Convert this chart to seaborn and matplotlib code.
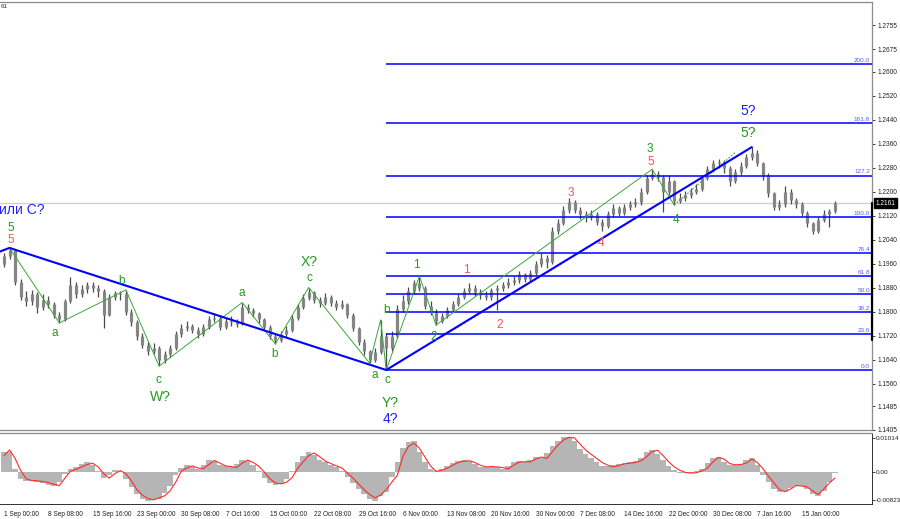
import matplotlib
matplotlib.use("Agg")
import matplotlib.pyplot as plt
import matplotlib.transforms as mtransforms
import numpy as np
import pandas as pd
import seaborn as sns

# ---- price bars (one bar here stands for a few H4 bars of the original) ----
first_open = 1.1960
closes = [
    1.1985, 1.2005, 1.1900, 1.1850, 1.1835, 1.1860, 1.1815, 1.1840, 1.1825, 1.1790,
    1.1775, 1.1835, 1.1890, 1.1860, 1.1875, 1.1890, 1.1880, 1.1870, 1.1790, 1.1850,
    1.1862, 1.1858, 1.1800, 1.1765, 1.1720, 1.1690, 1.1670, 1.1680, 1.1640, 1.1660,
    1.1680, 1.1725, 1.1745, 1.1752, 1.1740, 1.1725, 1.1750, 1.1775, 1.1780, 1.1750,
    1.1770, 1.1765, 1.1760, 1.1815, 1.1805, 1.1795, 1.1775, 1.1750, 1.1720, 1.1705,
    1.1725, 1.1740, 1.1780, 1.1815, 1.1845, 1.1865, 1.1840, 1.1830, 1.1850, 1.1830,
    1.1815, 1.1825, 1.1790, 1.1745, 1.1700, 1.1668, 1.1640, 1.1665, 1.1720, 1.1680,
    1.1720, 1.1810, 1.1835, 1.1870, 1.1895, 1.1880, 1.1820, 1.1800, 1.1770, 1.1785,
    1.1805, 1.1825, 1.1850, 1.1870, 1.1880, 1.1865, 1.1855, 1.1850, 1.1872, 1.1880,
    1.1890, 1.1900, 1.1905, 1.1925, 1.1910, 1.1930, 1.1960, 1.1980, 1.1965, 1.2070,
    1.2095, 1.2140, 1.2165, 1.2140, 1.2125, 1.2115, 1.2125, 1.2100, 1.2085, 1.2125,
    1.2145, 1.2130, 1.2150, 1.2158, 1.2165, 1.2200, 1.2245, 1.2260, 1.2250, 1.2200,
    1.2235, 1.2170, 1.2180, 1.2190, 1.2200, 1.2210, 1.2245, 1.2275, 1.2295, 1.2300,
    1.2280, 1.2235, 1.2265, 1.2285, 1.2315, 1.2330, 1.2295, 1.2255, 1.2195, 1.2150,
    1.2160, 1.2200, 1.2172, 1.2158, 1.2130, 1.2095, 1.2070, 1.2105, 1.2125, 1.2135,
    1.2161,
]
highs = [
    1.1995, 1.2012, 1.2008, 1.1910, 1.1868, 1.1872, 1.1865, 1.1858, 1.1852, 1.1832,
    1.1800, 1.1842, 1.1915, 1.1898, 1.1890, 1.1900, 1.1898, 1.1888, 1.1875, 1.1858,
    1.1870, 1.1868, 1.1872, 1.1808, 1.1772, 1.1728, 1.1698, 1.1695, 1.1685, 1.1670,
    1.1690, 1.1735, 1.1758, 1.1768, 1.1760, 1.1748, 1.1758, 1.1785, 1.1795, 1.1788,
    1.1778, 1.1785, 1.1775, 1.1830, 1.1825, 1.1812, 1.1800, 1.1780, 1.1755, 1.1728,
    1.1735, 1.1752, 1.1788, 1.1825, 1.1858, 1.1880, 1.1870, 1.1848, 1.1862, 1.1855,
    1.1838, 1.1840, 1.1830, 1.1795, 1.1750, 1.1708, 1.1672, 1.1678, 1.1772, 1.1728,
    1.1735, 1.1822, 1.1855, 1.1882, 1.1905, 1.1918, 1.1885, 1.1835, 1.1808, 1.1795,
    1.1815, 1.1835, 1.1860, 1.1880, 1.1895, 1.1888, 1.1875, 1.1868, 1.1880, 1.1890,
    1.1900, 1.1912, 1.1918, 1.1935, 1.1930, 1.1940, 1.1970, 1.1995, 1.1990, 1.2082,
    1.2110, 1.2152, 1.2180, 1.2172, 1.2148, 1.2135, 1.2140, 1.2132, 1.2108, 1.2135,
    1.2158, 1.2152, 1.2160, 1.2168, 1.2178, 1.2212, 1.2255, 1.2275, 1.2268, 1.2255,
    1.2255, 1.2240, 1.2195, 1.2202, 1.2212, 1.2225, 1.2255, 1.2285, 1.2305, 1.2308,
    1.2305, 1.2285, 1.2275, 1.2298, 1.2325, 1.2348, 1.2340, 1.2300, 1.2262, 1.2200,
    1.2172, 1.2218, 1.2208, 1.2180, 1.2165, 1.2135, 1.2100, 1.2115, 1.2138, 1.2142,
    1.2168,
]
lows = [
    1.1950, 1.1975, 1.1890, 1.1838, 1.1818, 1.1822, 1.1795, 1.1805, 1.1812, 1.1780,
    1.1762, 1.1770, 1.1828, 1.1845, 1.1850, 1.1862, 1.1865, 1.1850, 1.1745, 1.1785,
    1.1838, 1.1840, 1.1790, 1.1752, 1.1705, 1.1680, 1.1655, 1.1660, 1.1618, 1.1628,
    1.1650, 1.1672, 1.1715, 1.1735, 1.1728, 1.1712, 1.1718, 1.1742, 1.1765, 1.1738,
    1.1742, 1.1752, 1.1748, 1.1755, 1.1795, 1.1782, 1.1762, 1.1738, 1.1710, 1.1692,
    1.1698, 1.1715, 1.1732, 1.1772, 1.1808, 1.1838, 1.1828, 1.1815, 1.1822, 1.1818,
    1.1805, 1.1808, 1.1780, 1.1735, 1.1690, 1.1655, 1.1628, 1.1632, 1.1660, 1.1605,
    1.1668, 1.1712, 1.1798, 1.1825, 1.1860, 1.1870, 1.1810, 1.1790, 1.1755, 1.1762,
    1.1778, 1.1798, 1.1818, 1.1842, 1.1862, 1.1852, 1.1842, 1.1838, 1.1840, 1.1805,
    1.1870, 1.1878, 1.1890, 1.1895, 1.1898, 1.1902, 1.1922, 1.1950, 1.1945, 1.1960,
    1.2058, 1.2088, 1.2130, 1.2128, 1.2108, 1.2100, 1.2105, 1.2088, 1.2068, 1.2078,
    1.2115, 1.2118, 1.2122, 1.2140, 1.2148, 1.2155, 1.2192, 1.2238, 1.2235, 1.2132,
    1.2190, 1.2155, 1.2162, 1.2170, 1.2178, 1.2192, 1.2202, 1.2238, 1.2265, 1.2280,
    1.2262, 1.2220, 1.2228, 1.2255, 1.2278, 1.2305, 1.2285, 1.2240, 1.2182, 1.2138,
    1.2140, 1.2150, 1.2160, 1.2145, 1.2118, 1.2082, 1.2060, 1.2062, 1.2098, 1.2082,
    1.2128,
]

# ---- MACD window ----
macd_hist = [
    0.0060, 0.0060, 0.0010, -0.0020, -0.0026, -0.0027, -0.0030, -0.0032, -0.0038, -0.0042,
    -0.0030, -0.0005, 0.0008, 0.0016, 0.0024, 0.0030, 0.0022, 0.0002, -0.0018, -0.0010,
    0.0006, 0.0002, -0.0020, -0.0045, -0.0066, -0.0080, -0.0086, -0.0082, -0.0078, -0.0062,
    -0.0040, -0.0008, 0.0012, 0.0020, 0.0015, 0.0010, 0.0020, 0.0034, 0.0032, 0.0022,
    0.0018, 0.0014, 0.0024, 0.0036, 0.0032, 0.0020, 0.0004, -0.0018, -0.0032, -0.0038,
    -0.0034, -0.0022, 0.0004, 0.0028, 0.0046, 0.0058, 0.0050, 0.0036, 0.0028, 0.0020,
    0.0014, 0.0002, -0.0015, -0.0032, -0.0050, -0.0065, -0.0078, -0.0085, -0.0072, -0.0060,
    -0.0015, 0.0030, 0.0070, 0.0088, 0.0090, 0.0060, 0.0030, 0.0008, 0.0004, 0.0010,
    0.0018, 0.0026, 0.0032, 0.0036, 0.0032, 0.0024, 0.0016, 0.0016, 0.0018, 0.0014,
    0.0010, 0.0018, 0.0030, 0.0032, 0.0030, 0.0036, 0.0044, 0.0042, 0.0055, 0.0075,
    0.0092, 0.0102, 0.0104, 0.0090, 0.0068, 0.0052, 0.0040, 0.0028, 0.0018, 0.0018,
    0.0022, 0.0024, 0.0026, 0.0028, 0.0032, 0.0042, 0.0058, 0.0066, 0.0054, 0.0034,
    0.0018, 0.0006, -0.0002, -0.0004, -0.0003, 0.0002, 0.0010, 0.0026, 0.0040, 0.0045,
    0.0030, 0.0022, 0.0022, 0.0025, 0.0034, 0.0040, 0.0020, -0.0008, -0.0030, -0.0050,
    -0.0060, -0.0056, -0.0046, -0.0040, -0.0042, -0.0050, -0.0064, -0.0072, -0.0056, -0.0030,
    -0.0004,
]
macd_signal = [
    0.0048, 0.0065, 0.0040, 0.0005, -0.0020, -0.0025, -0.0026, -0.0028, -0.0031, -0.0036,
    -0.0040, -0.0018, 0.0002, 0.0008, 0.0015, 0.0022, 0.0026, 0.0015, -0.0005, -0.0018,
    -0.0005, 0.0004, -0.0005, -0.0026, -0.0052, -0.0068, -0.0078, -0.0082, -0.0076, -0.0070,
    -0.0055, -0.0030, 0.0002, 0.0012, 0.0018, 0.0012, 0.0010, 0.0022, 0.0034, 0.0026,
    0.0018, 0.0016, 0.0013, 0.0026, 0.0035, 0.0028, 0.0017, 0.0000, -0.0020, -0.0032,
    -0.0035, -0.0030, -0.0017, 0.0010, 0.0030, 0.0048, 0.0056, 0.0045, 0.0032, 0.0025,
    0.0018, 0.0012, -0.0003, -0.0018, -0.0035, -0.0052, -0.0066, -0.0076, -0.0068, -0.0052,
    -0.0030, -0.0010, 0.0045, 0.0075, 0.0085, 0.0070, 0.0044, 0.0018, 0.0002, 0.0005,
    0.0011, 0.0020, 0.0028, 0.0032, 0.0033, 0.0028, 0.0020, 0.0015, 0.0016, 0.0015,
    0.0013, 0.0009, 0.0020, 0.0029, 0.0030, 0.0030, 0.0038, 0.0044, 0.0040, 0.0060,
    0.0079, 0.0094, 0.0102, 0.0100, 0.0082, 0.0065, 0.0052, 0.0040, 0.0028, 0.0020,
    0.0015, 0.0019, 0.0024, 0.0026, 0.0028, 0.0033, 0.0045, 0.0060, 0.0064, 0.0048,
    0.0030, 0.0015, 0.0005, -0.0001, -0.0003, -0.0002, 0.0003, 0.0012, 0.0030, 0.0043,
    0.0038, 0.0025, 0.0021, 0.0022, 0.0026, 0.0038, 0.0028, 0.0010, -0.0012, -0.0032,
    -0.0052, -0.0058, -0.0050, -0.0040, -0.0041, -0.0044, -0.0056, -0.0066, -0.0050, -0.0032,
    -0.0018,
]

time_labels = [
    "1 Sep 00:00", "8 Sep 08:00", "15 Sep 16:00", "23 Sep 00:00", "30 Sep 08:00",
    "7 Oct 16:00", "15 Oct 00:00", "22 Oct 08:00", "29 Oct 16:00", "6 Nov 00:00",
    "13 Nov 08:00", "20 Nov 16:00", "30 Nov 00:00", "7 Dec 08:00", "14 Dec 16:00",
    "22 Dec 00:00", "30 Dec 08:00", "7 Jan 16:00", "15 Jan 00:00",
]
price_ticks = [1.2755, 1.2675, 1.2600, 1.2520, 1.2440, 1.2360, 1.2280, 1.2200, 1.2120,
               1.2040, 1.1960, 1.1880, 1.1800, 1.1720, 1.1640, 1.1560, 1.1485, 1.1405]
macd_ticks = [0.01014, 0.0, -0.00823]
macd_tick_labels = ["0.01014", "0.00", "-0.00823"]
last_price = 1.2161

# Fibonacci grid drawn from the wave-4 low
fib_levels = [0.0, 23.6, 38.2, 50.0, 61.8, 76.4, 100.0, 127.2, 161.8, 200.0]
fib_zero = 1.1604
fib_hundred = 1.2114
fib_start_bar = 69

# wave structure
blue_bars = [-1, 1, 69, 135]
blue_prices = [1.1998, 1.2012, 1.1605, 1.2348]
green_bars = [1, 10, 22, 28, 43, 49, 55, 66, 68, 69, 75, 78]
green_prices = [1.2012, 1.1762, 1.1872, 1.1618, 1.1830, 1.1692, 1.1880, 1.1628, 1.1772, 1.1605,
                1.1918, 1.1755]
green_up_bars = [78, 117, 121]
green_up_prices = [1.1755, 1.2274, 1.2155]
green_last_bars = [121, 132]
green_last_prices = [1.2155, 1.2330]
red_trend_bars = [79, 115]
red_trend_prices = [1.1715, 1.2122]

label_text = ["или C?", "5", "5", "a", "b", "c", "W?", "a", "b", "X?", "c", "a", "b", "c",
              "Y?", "4?", "1", "2", "1", "2", "3", "4", "5", "3", "4", "5?", "5?"]
label_bar = [-0.9, 1.3, 1.3, 9.2, 21.3, 27.8, 28.2, 43.0, 48.9, 55.1, 55.1, 67.0, 69.0, 69.3,
             69.7, 69.7, 74.4, 77.6, 83.4, 89.5, 102.3, 107.8, 116.8, 116.6, 121.3, 134.3, 134.3]
label_price = [1.2138, 1.2079, 1.2040, 1.1728, 1.1902, 1.1572, 1.1515, 1.1862, 1.1658, 1.1965,
               1.1912, 1.1588, 1.1805, 1.1572, 1.1495, 1.1442, 1.1955, 1.1715, 1.1938, 1.1755,
               1.2195, 1.2028, 1.2298, 1.2342, 1.2105, 1.2395, 1.2468]
label_color = ["b", "g", "r", "g", "g", "g", "g", "g", "g", "g", "g", "g", "g", "g",
               "g", "b", "g", "g", "r", "r", "r", "r", "r", "g", "g", "g", "b"]

colors = {"b": "#1f1fff", "g": "#1f9a1f", "r": "#ff5252"}

sns.set_style("white")
plt.rcParams["font.family"] = ["Liberation Sans", "DejaVu Sans"]

df = pd.DataFrame({"close": closes, "high": highs, "low": lows,
                   "hist": macd_hist, "signal": macd_signal})
df["bar"] = np.arange(len(df))
df["open"] = [first_open] + closes[:-1]

fig = plt.figure(figsize=(9, 5.19), dpi=100)
W, H = 900, 519
ax = fig.add_axes([0, (H - 430) / H, 872 / W, 428 / H])
ax2 = fig.add_axes([0, (H - 504) / H, 872 / W, 71 / H], sharex=ax)

xmin, xmax = -0.72, 156.7
ax.set_xlim(xmin, xmax)
ax.set_ylim(1.1405, 1.28317)
ax2.set_ylim(-0.00941, 0.01147)

# current price line
ax.axhline(last_price, color="#cfcfcf", lw=0.9, zorder=1)

# bars
body_lo = df[["open", "close"]].min(axis=1)
body_hi = df[["open", "close"]].max(axis=1)
ax.vlines(df["bar"], df["low"], df["high"], color="#4a4a4a", lw=0.9, zorder=2)
ax.vlines(df["bar"], body_lo, body_hi, color="#858585", lw=2.3, zorder=2)

# fibonacci levels
for lvl in fib_levels:
    y = fib_zero + (fib_hundred - fib_zero) * lvl / 100.0
    ax.plot([fib_start_bar, xmax], [y, y], color="#0000ff", lw=1.1, zorder=3,
            solid_capstyle="butt")
    ax.text(xmax - 0.35, y + 0.0004, f"{lvl:.1f}", color="#5a5aff", fontsize=4.6,
            ha="right", va="bottom", zorder=5)

# wave lines
ax.plot(green_bars, green_prices, color="#3aa83a", lw=0.7, zorder=3)
ax.plot(green_up_bars, green_up_prices, color="#3aa83a", lw=0.7, zorder=3)
ax.plot(green_last_bars, green_last_prices, color="#3aa83a", lw=0.7, ls=(0, (2, 1.5)), zorder=3)
ax.plot(red_trend_bars, red_trend_prices, color="#ff4040", lw=0.9, ls=(0, (1.5, 1.5)), zorder=3)
ax.plot(blue_bars, blue_prices, color="#0000ff", lw=1.5, zorder=4)

for t, bx, py, c in zip(label_text, label_bar, label_price, label_color):
    big = ("?" in t)
    ax.text(bx, py, t, color=colors[c], fontsize=10 if big else 8.5,
            ha="left" if t == "или C?" else "center", va="center", zorder=6)

# right price scale
ax.yaxis.tick_right()
ax.set_yticks(price_ticks)
ax.set_yticklabels([f"{p:.4f}" for p in price_ticks])
ax.tick_params(axis="y", direction="out", length=2.5, width=0.6, pad=1.5,
               labelsize=4.7, colors="#202020")
ax.tick_params(axis="x", bottom=False, labelbottom=False)
ax.spines["left"].set_visible(False)
for s in ["top", "bottom", "right"]:
    ax.spines[s].set_color("#8c8c8c")
    ax.spines[s].set_linewidth(0.9)

trans = mtransforms.blended_transform_factory(ax.transAxes, ax.transData)
ax.plot([1.0, 1.0], [last_price, 1.1705], color="black", lw=1.6, transform=trans,
        clip_on=False, zorder=7)
ax.text(1.004, last_price, f"{last_price:.4f}", transform=trans, color="white",
        fontsize=4.7, ha="left", va="center", zorder=8,
        bbox=dict(facecolor="black", edgecolor="black", pad=1.0))

fig.text(0.001, 1 - 7 / H, "61", fontsize=4.5, color="#303030", va="center")

# MACD panel
ax2.bar(df["bar"], df["hist"], width=1.0, color="#b5b5b5", linewidth=0, zorder=1)
sns.lineplot(data=df, x="bar", y="signal", color="#ff2a2a", lw=0.8, ax=ax2, zorder=2)
ax2.set_xlabel("")
ax2.set_ylabel("")
ax2.yaxis.tick_right()
ax2.set_yticks(macd_ticks)
ax2.set_yticklabels(macd_tick_labels)
ax2.tick_params(axis="y", direction="out", length=2.0, width=0.6, pad=1.0,
                labelsize=4.6, colors="#202020")
tick_bars = list(range(0, 8 * len(time_labels), 8))
ax2.set_xticks(tick_bars)
ax2.set_xticklabels(time_labels)
ax2.tick_params(axis="x", direction="out", length=3, width=0.6, pad=2,
                labelsize=4.7, colors="#202020")
for lab in ax2.get_xticklabels():
    lab.set_horizontalalignment("left")
ax2.spines["left"].set_visible(False)
ax2.spines["top"].set_color("#8c8c8c")
ax2.spines["top"].set_linewidth(0.9)
for s in ["bottom", "right"]:
    ax2.spines[s].set_color("#303030")
    ax2.spines[s].set_linewidth(0.7)

fig.savefig("out.png", dpi=100)
